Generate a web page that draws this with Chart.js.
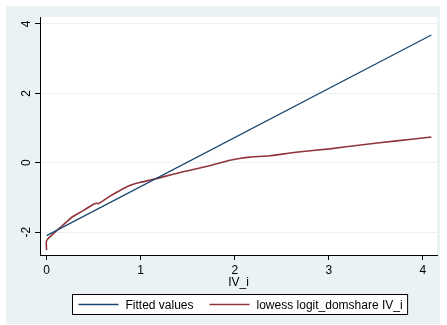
<!DOCTYPE html>
<html>
<head>
<meta charset="utf-8">
<script src="https://cdn.jsdelivr.net/npm/chart.js@4/dist/chart.umd.min.js"></script>
<style>
  html, body { margin: 0; padding: 0; background: #fff; }
  #wrap { width: 447px; height: 325px; position: relative; }
</style>
</head>
<body>
<div id="wrap"><canvas id="c"></canvas></div>
<script>
// ---------------------------------------------------------------------------
// Data
// ---------------------------------------------------------------------------
const fitX = [0, 4.09];
const fitY = [-2.10, 3.68];

const lowessX = [0, 0, 0.07, 0.14, 0.21, 0.28, 0.39, 0.49, 0.53, 0.55, 0.61, 0.67,
  0.78, 0.89, 0.99, 1.15, 1.42, 1.73, 1.95, 2.05, 2.16, 2.37, 2.65, 3.01, 3.36, 3.72, 4.09];
const lowessY = [-2.52, -2.25, -2.05, -1.88, -1.71, -1.55, -1.38, -1.21, -1.17, -1.18, -1.08, -0.97,
  -0.80, -0.65, -0.57, -0.47, -0.28, -0.09, 0.07, 0.12, 0.16, 0.20, 0.30, 0.40, 0.52, 0.63, 0.74];

const xTicks = [0, 1, 2, 3, 4];
const yTicks = [-2, 0, 2, 4];
const seriesNames = ['Fitted values', 'lowess logit_domshare IV_i'];
const xTitle = 'IV_i';

const NAVY = '#1a476f';
const MAROON = '#90353b';
const PANEL = '#eaf2f3';
const FONT = "'Liberation Sans', Arial, sans-serif";

const toPoints = (xs, ys) => xs.map((x, i) => ({ x, y: ys[i] }));

// ---------------------------------------------------------------------------
// Stata-ish background: light panel, white plot region
// ---------------------------------------------------------------------------
const backdrop = {
  id: 'backdrop',
  beforeDraw(chart) {
    const { ctx, chartArea: a } = chart;
    ctx.save();
    ctx.fillStyle = '#fff';
    ctx.fillRect(0, 0, chart.width, chart.height);
    ctx.fillStyle = PANEL;
    ctx.fillRect(6, 6, 434, 318);
    ctx.fillStyle = '#fff';
    ctx.fillRect(a.left, a.top, a.right - a.left, a.bottom - a.top);
    ctx.restore();
  },
};

// boxed legend underneath, like Stata's
const boxLegend = {
  id: 'boxLegend',
  afterDraw(chart) {
    const { ctx } = chart;
    const colors = [NAVY, MAROON];
    ctx.save();
    ctx.font = '12px ' + FONT;
    const lineLen = 40, gapLT = 7, gapItem = 16, padL = 6, padR = 5;
    const w0 = ctx.measureText(seriesNames[0]).width;
    const w1 = ctx.measureText(seriesNames[1]).width;
    const total = padL + lineLen + gapLT + w0 + gapItem + lineLen + gapLT + w1 + padR;
    const cx = 239.5, top = 294, h = 20;
    const left = Math.round(cx - total / 2) + 0.5;
    ctx.fillStyle = '#fff';
    ctx.fillRect(left, top + 0.5, total, h);
    ctx.strokeStyle = '#000';
    ctx.lineWidth = 1;
    ctx.strokeRect(left, top + 0.5, total, h);
    const midY = top + h / 2 + 0.5;
    let x = left + padL;
    [w0, w1].forEach((w, i) => {
      ctx.strokeStyle = colors[i];
      ctx.lineWidth = 1.3;
      ctx.beginPath();
      ctx.moveTo(x, midY);
      ctx.lineTo(x + lineLen, midY);
      ctx.stroke();
      x += lineLen + gapLT;
      ctx.fillStyle = '#000';
      ctx.textBaseline = 'middle';
      ctx.fillText(seriesNames[i], x, midY + 1);
      x += w + gapItem;
    });
    ctx.restore();
  },
};

new Chart(document.getElementById('c'), {
  type: 'scatter',
  data: {
    datasets: [
      {
        label: seriesNames[0],
        data: toPoints(fitX, fitY),
        showLine: true,
        borderColor: NAVY,
        borderWidth: 1.3,
        pointRadius: 0,
        tension: 0,
      },
      {
        label: seriesNames[1],
        data: toPoints(lowessX, lowessY),
        showLine: true,
        borderColor: MAROON,
        borderWidth: 1.6,
        pointRadius: 0,
        tension: 0.2,
      },
    ],
  },
  options: {
    responsive: true,
    maintainAspectRatio: false,
    animation: false,
    layout: { padding: { left: 6, top: 17, right: 10, bottom: 0 } },
    plugins: {
      legend: { display: false },
      tooltip: { enabled: false },
    },
    scales: {
      x: {
        type: 'linear',
        min: -0.07,
        max: 4.15,
        afterBuildTicks: s => { s.ticks = xTicks.map(v => ({ value: v })); },
        afterFit: s => { s.height = 70; },
        border: { display: true, color: '#000', width: 1 },
        grid: { drawOnChartArea: false, drawTicks: true, tickLength: 5, tickColor: '#000' },
        ticks: { color: '#000', padding: 3, font: { family: FONT, size: 12 } },
        title: {
          display: true, text: xTitle, color: '#000',
          font: { family: FONT, size: 12 }, padding: { top: 0, bottom: 35 },
        },
      },
      y: {
        type: 'linear',
        min: -2.66,
        max: 4.2,
        afterBuildTicks: s => { s.ticks = yTicks.map(v => ({ value: v })); },
        afterFit: s => { s.width = 34; },
        border: { display: true, color: '#000', width: 1 },
        grid: { color: PANEL, lineWidth: 1, drawTicks: true, tickLength: 5, tickColor: '#000' },
        ticks: {
          color: '#000', padding: 3, minRotation: 90, maxRotation: 90, crossAlign: 'center',
          font: { family: FONT, size: 12 },
        },
      },
    },
  },
  plugins: [backdrop, boxLegend],
});
</script>
</body>
</html>
